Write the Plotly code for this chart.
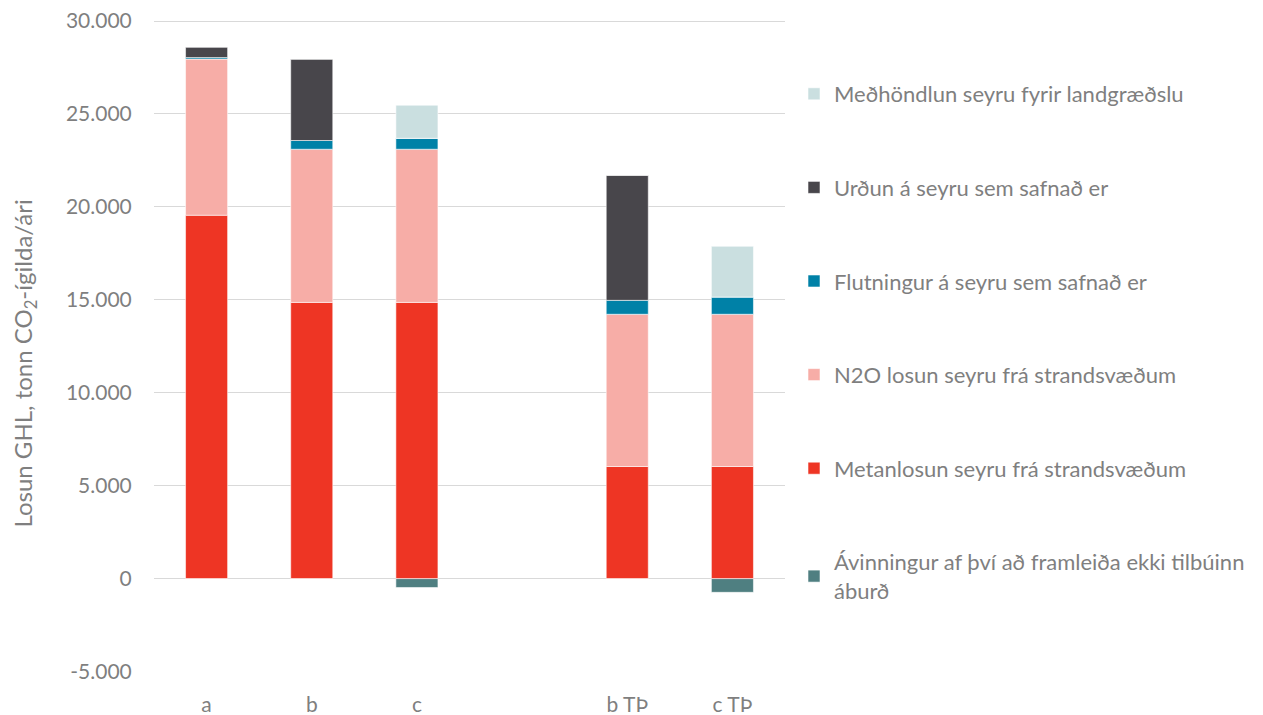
import plotly.graph_objects as go

categories = ["a", "b", "c", " ", "b TÞ", "c TÞ"]

metanlosun = [19550, 14860, 14860, None, 6030, 6030]
n2o_losun = [8400, 8240, 8240, None, 8190, 8190]
flutningur = [80, 470, 590, None, 750, 930]
urdun = [570, 4380, 0, None, 6730, 0]
medhondlun = [0, 0, 1780, None, 0, 2730]
avinningur = [0, 0, -480, None, 0, -740]

y_tickvals = [-5000, 0, 5000, 10000, 15000, 20000, 25000, 30000]
y_ticktext = ["-5.000", "0", "5.000", "10.000", "15.000", "20.000", "25.000", "30.000"]

# (legend name, values, colour, legend rank)
series = [
    ("Ávinningur af því að framleiða ekki tilbúinn<br>áburð", avinningur, "#4F7F81", 6),
    ("Metanlosun seyru frá strandsvæðum", metanlosun, "#EE3524", 5),
    ("N2O losun seyru frá strandsvæðum", n2o_losun, "#F7ADA7", 4),
    ("Flutningur á seyru sem safnað er", flutningur, "#0081A7", 3),
    ("Urðun á seyru sem safnað er", urdun, "#48464B", 2),
    ("Meðhöndlun seyru fyrir landgræðslu", medhondlun, "#CADFE0", 1),
]

FONT = "Lato"
GRAY = "#7F7F7F"
FS = 21

# the page adds an 8px body margin, so the figure is sized to sit inside the window
W, H = 1255, 707
L, R, T, B = 146, 478, 2, 43
PW, PH = W - L - R, H - T - B

fig = go.Figure()
for i, (name, vals, color, rank) in enumerate(series):
    fig.add_trace(go.Bar(
        x=categories, y=vals, name=name, legendgroup=f"g{i}", legendrank=rank,
        marker=dict(color=color, line=dict(color="rgba(255,255,255,0.7)", width=0.8)),
        width=0.4,
    ))

fig.add_annotation(
    text="Losun GHL, tonn CO<sub>2</sub>-ígilda/ári",
    textangle=-90, showarrow=False,
    xref="paper", yref="paper",
    x=(15.5 - L) / PW, y=(H - B - 356) / PH,
    xanchor="center", yanchor="middle",
    font=dict(family=FONT, size=24, color=GRAY),
)

fig.update_layout(
    barmode="relative",
    width=W, height=H,
    margin=dict(l=L, r=R, t=T, b=B, autoexpand=False),
    paper_bgcolor="white", plot_bgcolor="white",
    font=dict(family=FONT, size=FS, color=GRAY),
    showlegend=True,
    legend=dict(
        xref="container", yref="container",
        x=786 / W, y=1 - 65 / H, xanchor="left", yanchor="top",
        traceorder="grouped", tracegroupgap=62, maxheight=700,
        font=dict(family=FONT, size=22, color=GRAY),
        itemwidth=30,
    ),
    xaxis=dict(
        type="category", categoryorder="array", categoryarray=categories,
        showgrid=False, showline=False, zeroline=False,
        ticks="outside", ticklen=14, tickcolor="rgba(0,0,0,0)",
        tickfont=dict(family=FONT, size=FS, color=GRAY),
    ),
    yaxis=dict(
        range=[-5027, 30592],
        tickvals=y_tickvals, ticktext=y_ticktext,
        ticklabeloverflow="allow",
        showgrid=True, gridcolor="#D9D9D9", gridwidth=1,
        zeroline=True, zerolinecolor="#D9D9D9", zerolinewidth=1,
        showline=False,
        ticks="outside", ticklen=17, tickcolor="rgba(0,0,0,0)",
        tickfont=dict(family=FONT, size=FS, color=GRAY),
    ),
)

fig.write_html("out.html")
